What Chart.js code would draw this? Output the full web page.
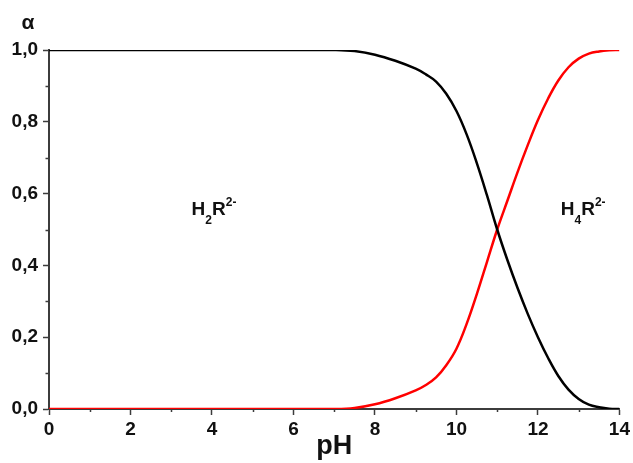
<!DOCTYPE html>
<html>
<head>
<meta charset="utf-8">
<script src="https://cdn.jsdelivr.net/npm/chart.js@4.4.1/dist/chart.umd.min.js"></script>
<style>
  html, body { margin: 0; padding: 0; background: #fff; }
</style>
</head>
<body>
<canvas id="chart" width="633" height="463"></canvas>
<script>
// distribution of the two forms over pH
let phValues  = [0, 1, 2, 3, 4, 5, 6, 7, 7.5, 8, 8.5, 9, 9.25, 9.5, 9.75, 10, 10.25, 10.5, 10.75, 11, 11.25, 11.5, 11.75, 12, 12.25, 12.5, 12.75, 13, 13.25, 13.5, 13.75, 14];
let h2rValues = [1, 1, 1, 1, 1, 1, 1, 1, 0.997, 0.987, 0.970, 0.948, 0.932, 0.912, 0.878, 0.830, 0.765, 0.685, 0.595, 0.500, 0.415, 0.337, 0.265, 0.200, 0.142, 0.092, 0.054, 0.028, 0.012, 0.005, 0.001, 0];
let h4rValues = [0, 0, 0, 0, 0, 0, 0, 0, 0.003, 0.013, 0.030, 0.052, 0.067, 0.088, 0.122, 0.168, 0.237, 0.320, 0.410, 0.500, 0.580, 0.660, 0.735, 0.805, 0.865, 0.915, 0.952, 0.976, 0.990, 0.996, 0.999, 1];

let xTicks = [0, 2, 4, 6, 8, 10, 12, 14];
let xMinor = [1, 3, 5, 7, 9, 11, 13];
let yTicks = [0, 0.2, 0.4, 0.6, 0.8, 1.0];
let yMinor = [0.1, 0.3, 0.5, 0.7, 0.9];

// species labels placed in data coordinates
let speciesLabels = [
    { x: 3.5, y: 0.54, parts: [["H", 0], ["2", 1], ["R", 0], ["2-", -1]] },
    { x: 12.56, y: 0.54, parts: [["H", 0], ["4", 1], ["R", 0], ["2-", -1]] }
];

const FONT = "'Liberation Sans', Arial, sans-serif";
const AXIS = "#3c3c3c";

function toPoints(xs, ys) {
    return xs.map((x, i) => ({ x: x, y: ys[i] }));
}

const extras = {
    id: "extras",
    beforeDatasetsDraw(chart) {
        const { ctx, chartArea, scales } = chart;
        ctx.save();
        ctx.strokeStyle = AXIS;
        ctx.lineWidth = 1.5;
        ctx.beginPath();
        for (let v of xMinor) {
            let px = Math.round(scales.x.getPixelForValue(v)) + 0.5;
            ctx.moveTo(px, chartArea.bottom);
            ctx.lineTo(px, chartArea.bottom + 3);
        }
        for (let v of yMinor) {
            let py = Math.round(scales.y.getPixelForValue(v)) + 0.5;
            ctx.moveTo(chartArea.left, py);
            ctx.lineTo(chartArea.left - 3.5, py);
        }
        ctx.stroke();
        ctx.restore();
    },
    afterDraw(chart) {
        const { ctx, chartArea, scales } = chart;
        ctx.save();
        ctx.fillStyle = "#111";
        // axis symbol above the y axis
        ctx.font = "bold 21px " + FONT;
        ctx.textAlign = "center";
        ctx.textBaseline = "alphabetic";
        ctx.fillText("α", chartArea.left - 21, chartArea.top - 21);

        ctx.textAlign = "left";
        for (let lab of speciesLabels) {
            let px = scales.x.getPixelForValue(lab.x);
            let py = scales.y.getPixelForValue(lab.y);
            for (let [t, shift] of lab.parts) {
                if (shift === 0) {
                    ctx.font = "bold 19px " + FONT;
                    ctx.fillText(t, px, py);
                } else {
                    ctx.font = "bold 12px " + FONT;
                    ctx.fillText(t, px, shift > 0 ? py + 9 : py - 9);
                }
                px += ctx.measureText(t).width;
            }
        }
        ctx.restore();
    }
};

let chart = new Chart(document.getElementById("chart"), {
    type: "line",
    data: {
        datasets: [
            {
                label: "H2R2-",
                data: toPoints(phValues, h2rValues),
                borderColor: "#000000",
                borderWidth: 2.5,
                pointRadius: 0,
                tension: 0.4
            },
            {
                label: "H4R2-",
                data: toPoints(phValues, h4rValues),
                borderColor: "#ff0000",
                borderWidth: 2.5,
                pointRadius: 0,
                tension: 0.4
            }
        ]
    },
    options: {
        responsive: false,
        animation: false,
        layout: { padding: { top: 50, right: 11, left: 0, bottom: 0 } },
        plugins: {
            legend: { display: false },
            tooltip: { enabled: false }
        },
        scales: {
            x: {
                type: "linear",
                min: 0,
                max: 14,
                afterFit: (s) => { s.height = 54; },
                afterBuildTicks: (s) => { s.ticks = xTicks.map(v => ({ value: v })); },
                border: { display: true, color: AXIS, width: 2 },
                grid: { drawOnChartArea: false, drawTicks: true, tickLength: 6, tickWidth: 1.5, tickColor: AXIS },
                ticks: {
                    padding: 3,
                    color: "#111",
                    font: { family: FONT, size: 19, weight: "bold" },
                    maxRotation: 0
                },
                title: {
                    display: true,
                    text: "pH",
                    color: "#111",
                    font: { family: FONT, size: 27, weight: "bold" },
                    padding: { top: 0, bottom: 0 }
                }
            },
            y: {
                type: "linear",
                min: 0,
                max: 1,
                afterFit: (s) => { s.width = 49; },
                afterBuildTicks: (s) => { s.ticks = yTicks.map(v => ({ value: v })); },
                border: { display: true, color: AXIS, width: 2 },
                grid: { drawOnChartArea: false, drawTicks: true, tickLength: 6, tickWidth: 1.5, tickColor: AXIS },
                ticks: {
                    padding: 5,
                    color: "#111",
                    font: { family: FONT, size: 19, weight: "bold" },
                    callback: (v) => v.toFixed(1).replace(".", ",")
                }
            }
        }
    },
    plugins: [extras]
});
</script>
</body>
</html>
